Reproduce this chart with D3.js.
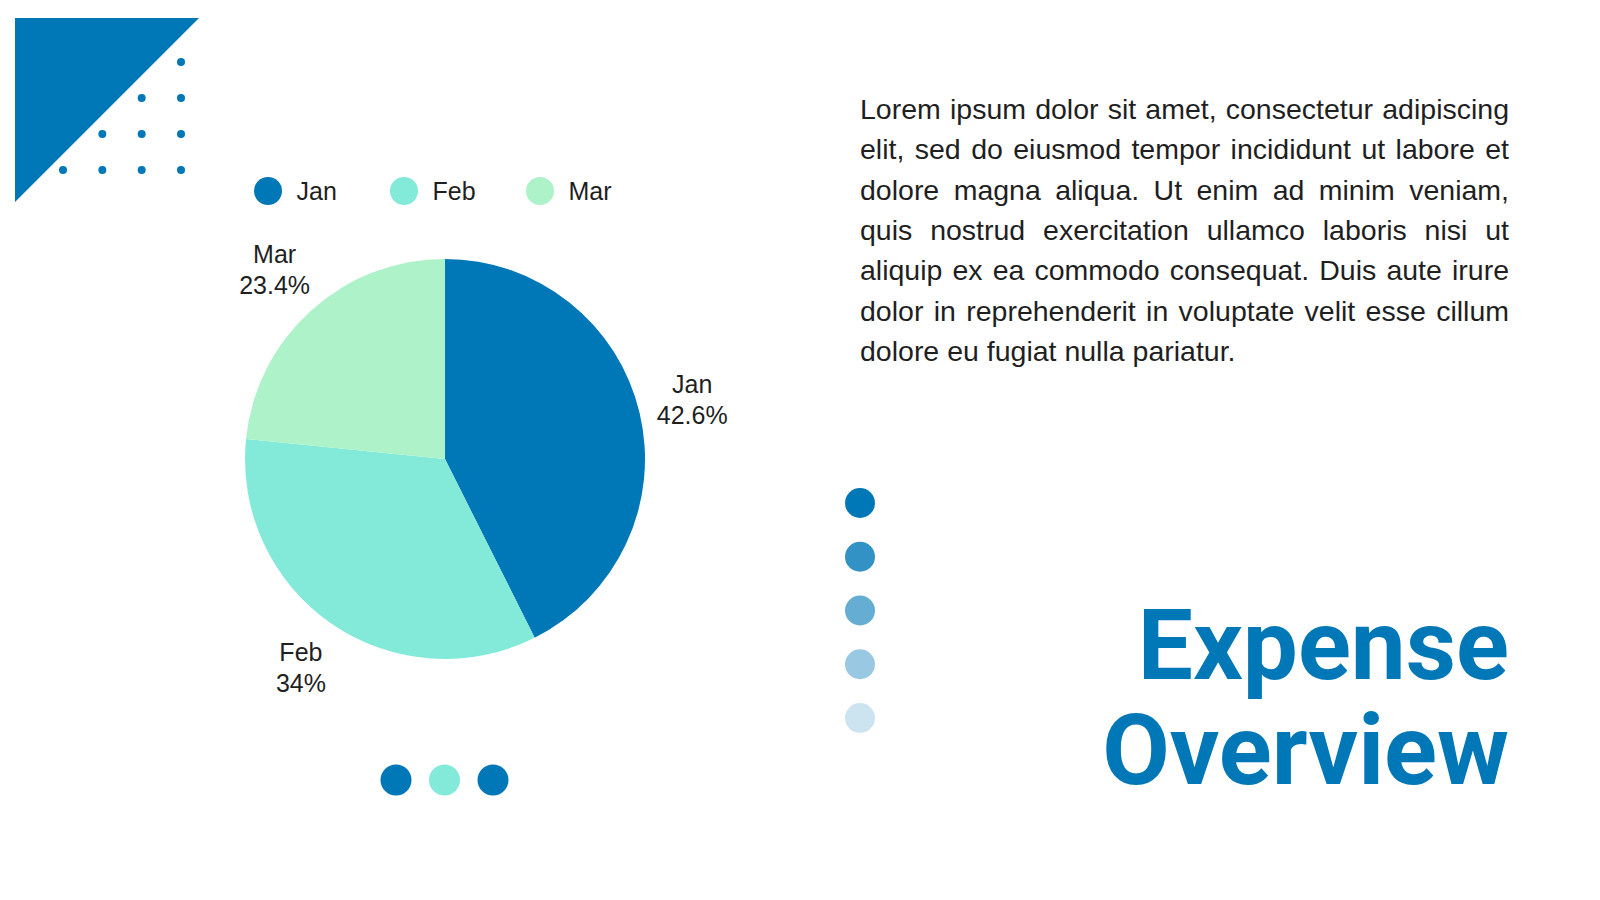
<!DOCTYPE html>
<html>
<head>
<meta charset="utf-8">
<script src="https://cdn.jsdelivr.net/npm/d3@7"></script>
<style>
  html, body { margin: 0; padding: 0; background: #fff; }
  svg { display: block; }
</style>
</head>
<body>
<svg id="chart" width="1600" height="900"></svg>
<script>
// chart data
const months = ["Jan", "Feb", "Mar"];
const shares = [42.6, 34, 23.4];
const colors = ["#0077b6", "#83eada", "#aef2c9"];

const paragraphLines = [
    "Lorem ipsum dolor sit amet, consectetur adipiscing",
    "elit, sed do eiusmod tempor incididunt ut labore et",
    "dolore magna aliqua. Ut enim ad minim veniam,",
    "quis nostrud exercitation ullamco laboris nisi ut",
    "aliquip ex ea commodo consequat. Duis aute irure",
    "dolor in reprehenderit in voluptate velit esse cillum",
    "dolore eu fugiat nulla pariatur."
];
const titleLines = ["Expense", "Overview"];

// decoration
const fadeOpacity = [1, 0.8, 0.6, 0.4, 0.2];
const bottomDots = ["#0077b6", "#83eada", "#0077b6"];

const blue = "#0077b6";
const textFont = "'Liberation Sans', Arial, Helvetica, sans-serif";

const svg = d3.select("#chart");

// corner triangle + dot grid
svg.append("path")
    .attr("d", "M15,18L199,18L15,202Z")
    .attr("fill", blue);

const gridX = d3.scaleLinear().domain([0, 3]).range([63, 181]);
const gridY = d3.scaleLinear().domain([0, 3]).range([62, 170]);
let gridPts = [];
for (let r = 0; r < 4; r++) {
    for (let c = 3 - r; c < 4; c++) gridPts.push([c, r]);
}
svg.append("g").selectAll("circle")
    .data(gridPts)
    .enter()
    .append("circle")
    .attr("cx", d => gridX(d[0]))
    .attr("cy", d => gridY(d[1]))
    .attr("r", 4)
    .attr("fill", blue);

// legend
const legendX = d3.scalePoint().domain(months).range([268, 540]);
const legend = svg.append("g").selectAll("g")
    .data(months)
    .enter()
    .append("g")
    .attr("transform", d => `translate(${legendX(d)}, 191)`);
legend.append("circle")
    .attr("r", 14)
    .attr("fill", (d, i) => colors[i]);
legend.append("text")
    .attr("x", 28.5)
    .attr("dy", "0.35em")
    .attr("font-family", textFont)
    .attr("font-size", 25)
    .attr("fill", "#1f1f1f")
    .text(d => d);

// pie
const radius = 200;
const pieLayer = svg.append("g").attr("transform", "translate(445, 459)");
const pie = d3.pie().sort(null).value(d => d.value);
const arcs = pie(months.map((m, i) => ({ name: m, value: shares[i], color: colors[i] })));
const arc = d3.arc().innerRadius(0).outerRadius(radius);
const labelArc = d3.arc().innerRadius(radius * 1.27).outerRadius(radius * 1.27);

pieLayer.selectAll(".slice")
    .data(arcs)
    .enter()
    .append("path")
    .attr("class", "slice")
    .attr("d", arc)
    .attr("fill", d => d.data.color);

const labels = pieLayer.selectAll(".label")
    .data(arcs)
    .enter()
    .append("text")
    .attr("class", "label")
    .attr("transform", d => `translate(${labelArc.centroid(d)})`)
    .attr("text-anchor", "middle")
    .attr("font-family", textFont)
    .attr("font-size", 25)
    .attr("fill", "#1f1f1f");
labels.append("tspan")
    .attr("x", 0)
    .attr("y", -16)
    .attr("dy", "0.35em")
    .text(d => d.data.name);
labels.append("tspan")
    .attr("x", 0)
    .attr("y", 15)
    .attr("dy", "0.35em")
    .text(d => d.data.value + "%");

// dots under the pie
const bottomX = d3.scalePoint().domain(d3.range(bottomDots.length)).range([396, 493]);
svg.append("g").selectAll("circle")
    .data(bottomDots)
    .enter()
    .append("circle")
    .attr("cx", (d, i) => bottomX(i))
    .attr("cy", 780)
    .attr("r", 15.5)
    .attr("fill", d => d);

// fading vertical dots
const fadeY = d3.scalePoint().domain(d3.range(fadeOpacity.length)).range([503, 718]);
svg.append("g").selectAll("circle")
    .data(fadeOpacity)
    .enter()
    .append("circle")
    .attr("cx", 860)
    .attr("cy", (d, i) => fadeY(i))
    .attr("r", 15)
    .attr("fill", blue)
    .attr("fill-opacity", d => d);

// justified paragraph
const textLeft = 860, textRight = 1509;
const para = svg.append("g");
para.selectAll("text")
    .data(paragraphLines)
    .enter()
    .append("text")
    .attr("x", textLeft)
    .attr("y", (d, i) => 119 + i * 40.3)
    .attr("font-family", textFont)
    .attr("font-size", 28.5)
    .attr("fill", "#1f1f1f")
    .text(d => d)
    .each(function(d, i) {
        if (i === paragraphLines.length - 1) return;
        const gaps = d.split(" ").length - 1;
        const natural = this.getComputedTextLength();
        const extra = (textRight - textLeft - natural) / gaps;
        d3.select(this).attr("word-spacing", extra);
    });

// title
svg.append("g").selectAll("text")
    .data(titleLines)
    .enter()
    .append("text")
    .attr("x", textRight)
    .attr("y", (d, i) => 679 + i * 105)
    .attr("text-anchor", "end")
    .attr("font-family", "Roboto, sans-serif")
    .attr("font-weight", 700)
    .attr("font-size", 98)
    .attr("fill", blue)
    .text(d => d);
</script>
</body>
</html>
